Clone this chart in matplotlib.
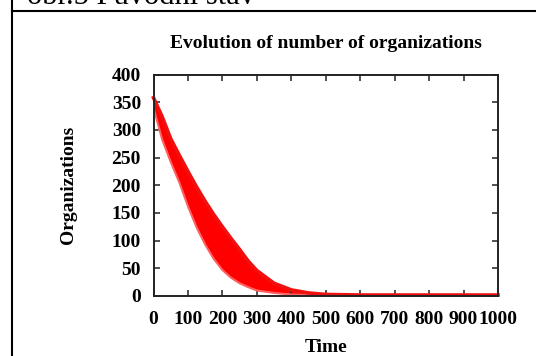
import matplotlib
matplotlib.use('Agg')
import matplotlib.pyplot as plt
from matplotlib.lines import Line2D

# Envelope of the simulated runs
time = [0, 25, 50, 75, 100, 125, 150, 175, 200, 225, 250, 275, 300, 350, 400, 450, 500, 600, 700, 800, 900, 1000]
org_low = [340, 283, 242, 205, 162, 124, 93, 67, 47, 33, 23, 16, 10, 5.5, 2.7, 1.8, 1.0, 1.0, 1.0, 1.0, 1.0, 1.0]
org_high = [358, 324, 284, 254, 225, 197, 171, 147, 125, 104, 84, 63, 46, 23, 11, 5.5, 2.8, 1.8, 1.8, 1.8, 1.8, 1.8]

x_ticks = [0, 100, 200, 300, 400, 500, 600, 700, 800, 900, 1000]
y_ticks = [0, 50, 100, 150, 200, 250, 300, 350, 400]

plt.rcParams['font.family'] = ['Liberation Serif', 'DejaVu Serif']

fig = plt.figure(figsize=(5.36, 3.56), dpi=100)
ax = fig.add_axes([153.5 / 536, 1 - 296 / 356, (498 - 153.5) / 536, (296 - 74.5) / 356])

# The red band
ax.fill_between(time, org_low, org_high, color='#ff0000', lw=0)
ax.plot(time, org_low, color='#ff6060', lw=1.5)
ax.plot(time, org_high, color='#f01010', lw=2.6, clip_on=False)

ax.set_xlim(0, 1000)
ax.set_ylim(0, 400)
ax.set_xticks(x_ticks)
ax.set_yticks(y_ticks)
ax.tick_params(direction='in', length=4, width=1.2, color='#333333',
               top=True, right=True, labelsize=14)
ax.tick_params(axis='x', pad=11)
ax.tick_params(axis='y', pad=9)
for lab in ax.get_xticklabels() + ax.get_yticklabels():
    lab.set_fontweight('bold')
for sp in ax.spines.values():
    sp.set_linewidth(1.4)
    sp.set_color('#222222')

ax.text(0.5, 1 + (74.5 - 44) / 221.5, 'Evolution of number of organizations',
        transform=ax.transAxes, ha='center', va='center', fontsize=14, fontweight='bold')
ax.set_ylabel('Organizations', fontsize=14, fontweight='bold')
ax.yaxis.set_label_coords((68 - 153.5) / 344.5, 0.5)
ax.yaxis.label.set_va('center')
ax.set_xlabel('Time', fontsize=14, fontweight='bold')
ax.xaxis.set_label_coords(0.5, (296 - 348) / 221.5)
ax.xaxis.label.set_va('center')

# page frame and caption cut off at the top
fig.add_artist(Line2D([12 / 536, 1], [1 - 11 / 356, 1 - 11 / 356], color='black', lw=1.5))
fig.add_artist(Line2D([12 / 536, 12 / 536], [0, 1], color='black', lw=1.5))
fig.text(27 / 536, 1 - 4 / 356, 'obr.5 Původní stav', fontsize=22, va='baseline', ha='left')

fig.savefig('out.png', dpi=100)
